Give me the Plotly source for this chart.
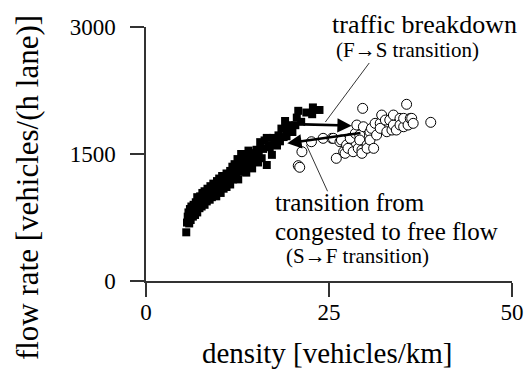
import plotly.graph_objects as go

# Free-flow measurements (density in vehicles/km, flow rate in vehicles/(h lane))
free_density = [5.5, 5.6, 5.7, 5.8, 5.8, 5.9, 6.0, 6.0, 6.1, 6.2, 6.3, 6.4, 6.5, 6.6, 6.7,
                6.8, 6.9, 7.0, 7.0, 7.2, 7.3, 7.4, 7.5, 7.6, 7.7, 7.8, 8.0, 8.0, 8.2, 8.3,
                8.4, 8.6, 8.7, 8.8, 9.0, 9.0, 9.2, 9.3, 9.4, 9.6, 9.7, 9.8, 10.0, 10.0,
                10.2, 10.3, 10.4, 10.6, 10.7, 10.8, 11.0, 11.0, 11.2, 11.3, 11.5, 11.5,
                11.7, 11.8, 11.9, 12.0, 12.1, 12.3, 12.4, 12.5, 12.6, 12.7, 12.9, 13.0,
                13.1, 13.2, 13.4, 13.5, 13.6, 13.7, 13.9, 14.0, 14.1, 14.2, 14.4, 14.5,
                14.6, 14.8, 15.0, 15.1, 15.3, 15.4, 15.6, 15.8, 16.0, 16.2, 16.5, 16.5,
                16.7, 16.9, 17.2, 17.4, 17.6, 17.9, 18.1, 18.3, 18.5, 18.8, 19.0, 19.2,
                19.2, 19.5, 20.0, 20.4, 20.6, 20.8, 21.2, 21.9, 22.7, 22.8, 23.7]
free_flow = [575, 690, 760, 810, 730, 680, 850, 770, 720, 880, 800, 760, 900, 840, 780,
             930, 870, 990, 810, 920, 860, 1000, 950, 880, 1040, 970, 1060, 900, 1000, 940,
             1090, 1030, 960, 1120, 1070, 990, 1150, 1040, 1100, 1000, 1180, 1080, 1210,
             1120, 1040, 1170, 1240, 1090, 1200, 1150, 1270, 1110, 1230, 1180, 1300, 1140,
             1250, 1350, 1200, 1290, 1380, 1250, 1330, 1440, 1200, 1370, 1290, 1500,
             1420, 1330, 1450, 1380, 1500, 1280, 1430, 1540, 1360, 1470, 1400, 1330,
             1460, 1510, 1420, 1550, 1400, 1530, 1640, 1450, 1560, 1660, 1370, 1690,
             1600, 1580, 1490, 1690, 1620, 1600, 1720, 1650, 1800, 1700, 1890, 1780,
             1710, 1840, 1760, 1840, 1930, 2010, 1880, 1990, 1970, 2050, 2020]

# Synchronized-flow measurements
sync_density = [20.8, 21.0, 21.3, 22.6, 24.2, 25.4, 25.6, 26.0, 26.5, 26.7, 27.0, 27.2, 27.4,
                27.6, 27.9, 28.3, 28.6, 28.8, 29.0, 29.2, 29.2, 29.5, 29.5, 29.6, 29.7, 30.2,
                30.2, 30.6, 30.6, 30.8, 31.1, 31.3, 31.5, 32.0, 32.0, 32.2, 32.7, 32.9, 33.3,
                33.6, 33.8, 33.8, 34.2, 34.7, 34.7, 35.2, 35.2, 35.6, 35.8, 36.1, 36.3, 36.5,
                38.9]
sync_flow = [1362, 1343, 1527, 1645, 1685, 1685, 1685, 1449, 1645, 1665, 1527, 1508, 1606,
             1567, 1685, 1527, 1744, 1842, 1567, 1724, 1665, 1547, 1508, 2039, 1822, 1606,
             1567, 1763, 1665, 1803, 1567, 1862, 1724, 1862, 1803, 1960, 1901, 1763, 1901,
             1783, 1842, 1960, 1783, 1921, 1842, 1822, 1921, 2087, 1842, 1921, 1921, 1862,
             1874]

x_ticks = [0, 25, 50]
y_ticks = [0, 1500, 3000]

serif = "Liberation Serif"

fig = go.Figure()
fig.add_trace(go.Scatter(
    x=free_density, y=free_flow, mode="markers", name="free flow",
    marker=dict(symbol="square", size=8, color="black", line=dict(width=0)),
))
fig.add_trace(go.Scatter(
    x=sync_density, y=sync_flow, mode="markers", name="synchronized flow",
    marker=dict(symbol="circle", size=10, color="white", line=dict(color="black", width=1)),
))

# Transition arrows: F->S (breakdown) and S->F (recovery)
arrow_style = dict(xref="x", yref="y", axref="x", ayref="y", text="", showarrow=True,
                   arrowhead=2, arrowsize=1.1, arrowwidth=2.6, arrowcolor="black")
fig.add_annotation(x=28.1, y=1835, ax=21.3, ay=1850, **arrow_style)
fig.add_annotation(x=19.3, y=1626, ax=29.5, ay=1750, **arrow_style)

# Thin leader lines from the labels to the arrows
fig.add_shape(type="line", xref="x", yref="y", x0=30.5, y0=2575, x1=24.5, y1=1878,
              line=dict(color="black", width=0.8))
fig.add_shape(type="line", xref="x", yref="y", x0=21.9, y0=1610, x1=24.8, y1=1060,
              line=dict(color="black", width=0.8))

label_font = dict(family=serif, size=25, color="black")
small_font = dict(family=serif, size=21, color="black")
fig.add_annotation(xref="paper", yref="paper", x=0.503, y=1.01, xanchor="left", yanchor="middle",
                   text="traffic breakdown", showarrow=False, font=dict(family=serif, size=26, color="black"))
fig.add_annotation(xref="paper", yref="paper", x=0.515, y=0.908, xanchor="left", yanchor="middle",
                   text="(F→S transition)", showarrow=False, font=small_font)
fig.add_annotation(xref="paper", yref="paper", x=0.348, y=0.308, xanchor="left", yanchor="middle",
                   text="transition from", showarrow=False, font=label_font)
fig.add_annotation(xref="paper", yref="paper", x=0.348, y=0.193, xanchor="left", yanchor="middle",
                   text="congested to free flow", showarrow=False, font=label_font)
fig.add_annotation(xref="paper", yref="paper", x=0.378, y=0.098, xanchor="left", yanchor="middle",
                   text="(S→F transition)", showarrow=False, font=small_font)

# Axis titles placed by hand so the plot area keeps its fixed margins
fig.add_annotation(xref="paper", yref="paper", x=-0.325, y=0.366, xanchor="center", yanchor="middle",
                   text="flow rate [vehicles/(h lane)]", textangle=-90, showarrow=False,
                   font=dict(family=serif, size=31, color="black"))
fig.add_annotation(xref="paper", yref="paper", x=0.494, y=-0.285, xanchor="center", yanchor="middle",
                   text="density [vehicles/km]", showarrow=False,
                   font=dict(family=serif, size=29, color="black"))

axis_common = dict(showgrid=False, zeroline=False, showline=True, linecolor="#333333", linewidth=1.5,
                   ticks="outside", ticklen=14, tickwidth=1.5, tickcolor="#333333", automargin=False,
                   tickfont=dict(family=serif, size=23, color="black"))
fig.update_xaxes(range=[0, 50], tickvals=x_ticks, ticktext=[str(v) for v in x_ticks],
                 ticklabelstandoff=-4, **axis_common)
fig.update_yaxes(range=[0, 3000], tickvals=y_ticks, ticktext=[str(v) for v in y_ticks],
                 ticklabelstandoff=10, **axis_common)

fig.update_layout(
    width=527, height=370,
    margin=dict(l=146, r=15, t=27, b=89),
    paper_bgcolor="white", plot_bgcolor="white",
    showlegend=False,
)

fig.write_html("out.html")
